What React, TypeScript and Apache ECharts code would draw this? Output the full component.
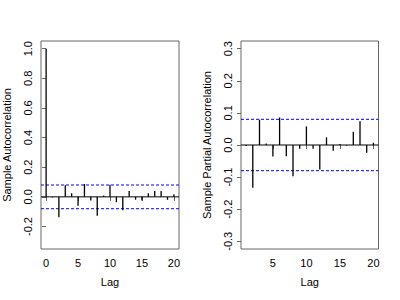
import React, { useEffect, useRef } from "react";
import * as echarts from "echarts";

const acfLags = [0, 1, 2, 3, 4, 5, 6, 7, 8, 9, 10, 11, 12, 13, 14, 15, 16, 17, 18, 19, 20];
const acfValues = [1.0, -0.004, -0.137, 0.079, 0.024, -0.06, 0.087, -0.025, -0.127, 0.009, 0.082, -0.036, -0.09, 0.04, -0.019, -0.024, 0.025, 0.04, 0.04, -0.02, 0.018];
const pacfLags = [1, 2, 3, 4, 5, 6, 7, 8, 9, 10, 11, 12, 13, 14, 15, 16, 17, 18, 19, 20];
const pacfValues = [-0.003, -0.133, 0.079, 0.005, -0.036, 0.086, -0.035, -0.097, -0.012, 0.058, -0.012, -0.076, 0.024, -0.018, 0.003, -0.002, 0.041, 0.074, -0.024, 0.007];
const confLimit = 0.08;
const acfYTicks = [-0.2, 0.0, 0.2, 0.4, 0.6, 0.8, 1.0];
const pacfYTicks = [-0.3, -0.2, -0.1, 0.0, 0.1, 0.2, 0.3];
const acfXTicks = [0, 5, 10, 15, 20];
const pacfXTicks = [5, 10, 15, 20];
const acfXRange = [-0.8, 20.8];
const pacfXRange = [0.24, 20.76];

const FONT = "Liberation Sans, Arial, Helvetica, sans-serif";
const AX = "#666";

function makeX(gridIndex: number, range: number[], ticks: number[]) {
  return {
    type: "value",
    gridIndex,
    min: range[0],
    max: range[1],
    name: "Lag",
    nameLocation: "middle",
    nameGap: 27,
    nameTextStyle: { color: "#000", fontSize: 11, fontFamily: FONT },
    axisLine: { show: false },
    axisTick: { show: true, length: 4, customValues: ticks, lineStyle: { color: AX } },
    axisLabel: {
      customValues: ticks,
      color: "#000",
      fontSize: 11,
      fontFamily: FONT,
      margin: 8,
      formatter: (v: number) => String(v),
    },
    splitLine: { show: false },
  };
}

function makeY(gridIndex: number, min: number, max: number, ticks: number[], name: string) {
  return {
    type: "value",
    gridIndex,
    min,
    max,
    name,
    nameLocation: "middle",
    nameGap: 29,
    nameTextStyle: { color: "#000", fontSize: 11, fontFamily: FONT },
    axisLine: { show: false },
    axisTick: { show: true, length: 4, customValues: ticks, lineStyle: { color: AX } },
    axisLabel: {
      customValues: ticks,
      rotate: 90,
      color: "#000",
      fontSize: 11,
      fontFamily: FONT,
      margin: 8,
      formatter: (v: number) => v.toFixed(1),
    },
    splitLine: { show: false },
  };
}

function hLine(idx: number, range: number[], y: number, color: string, dashed: boolean) {
  return {
    type: "line",
    xAxisIndex: idx,
    yAxisIndex: idx,
    data: [[range[0], y], [range[1], y]],
    symbol: "none",
    silent: true,
    lineStyle: { color, width: 1, type: dashed ? [3, 2] : "solid" },
    z: 1,
  };
}

function panelSeries(idx: number, lags: number[], vals: number[], range: number[]) {
  return [
    hLine(idx, range, 0, "#000", false),
    hLine(idx, range, confLimit, "#0000ff", true),
    hLine(idx, range, -confLimit, "#0000ff", true),
    {
      type: "custom",
      xAxisIndex: idx,
      yAxisIndex: idx,
      data: lags.map((l, i) => [l, vals[i]]),
      encode: { x: 0, y: 1 },
      z: 2,
      renderItem: (params: any, api: any) => {
        const x = api.value(0);
        const y = api.value(1);
        const p0 = api.coord([x, 0]);
        const p1 = api.coord([x, y]);
        return {
          type: "line",
          shape: { x1: p0[0], y1: p0[1], x2: p1[0], y2: p1[1] },
          style: { stroke: "#000", lineWidth: 1.3 },
        };
      },
    },
  ];
}

export default function App() {
  const ref = useRef<HTMLDivElement>(null);
  useEffect(() => {
    if (!ref.current) return;
    const chart = echarts.init(ref.current, undefined, { renderer: "svg" });
    chart.setOption({
      animation: false,
      backgroundColor: "#fff",
      grid: [
        { left: 41, right: 221, top: 41, bottom: 51, show: true, borderColor: AX, borderWidth: 1, backgroundColor: "transparent" },
        { left: 241, right: 21.5, top: 41, bottom: 51, show: true, borderColor: AX, borderWidth: 1, backgroundColor: "transparent" },
      ],
      xAxis: [makeX(0, acfXRange, acfXTicks), makeX(1, pacfXRange, pacfXTicks)],
      yAxis: [
        makeY(0, -0.352, 1.052, acfYTicks, "Sample Autocorrelation"),
        makeY(1, -0.324, 0.324, pacfYTicks, "Sample Partial Autocorrelation"),
      ],
      series: [
        ...panelSeries(0, acfLags, acfValues, acfXRange),
        ...panelSeries(1, pacfLags, pacfValues, pacfXRange),
      ],
    });
    return () => chart.dispose();
  }, []);
  return (
    <div
      ref={ref}
      style={{ position: "absolute", left: 0, top: 0, width: 400, height: 300 }}
    />
  );
}
